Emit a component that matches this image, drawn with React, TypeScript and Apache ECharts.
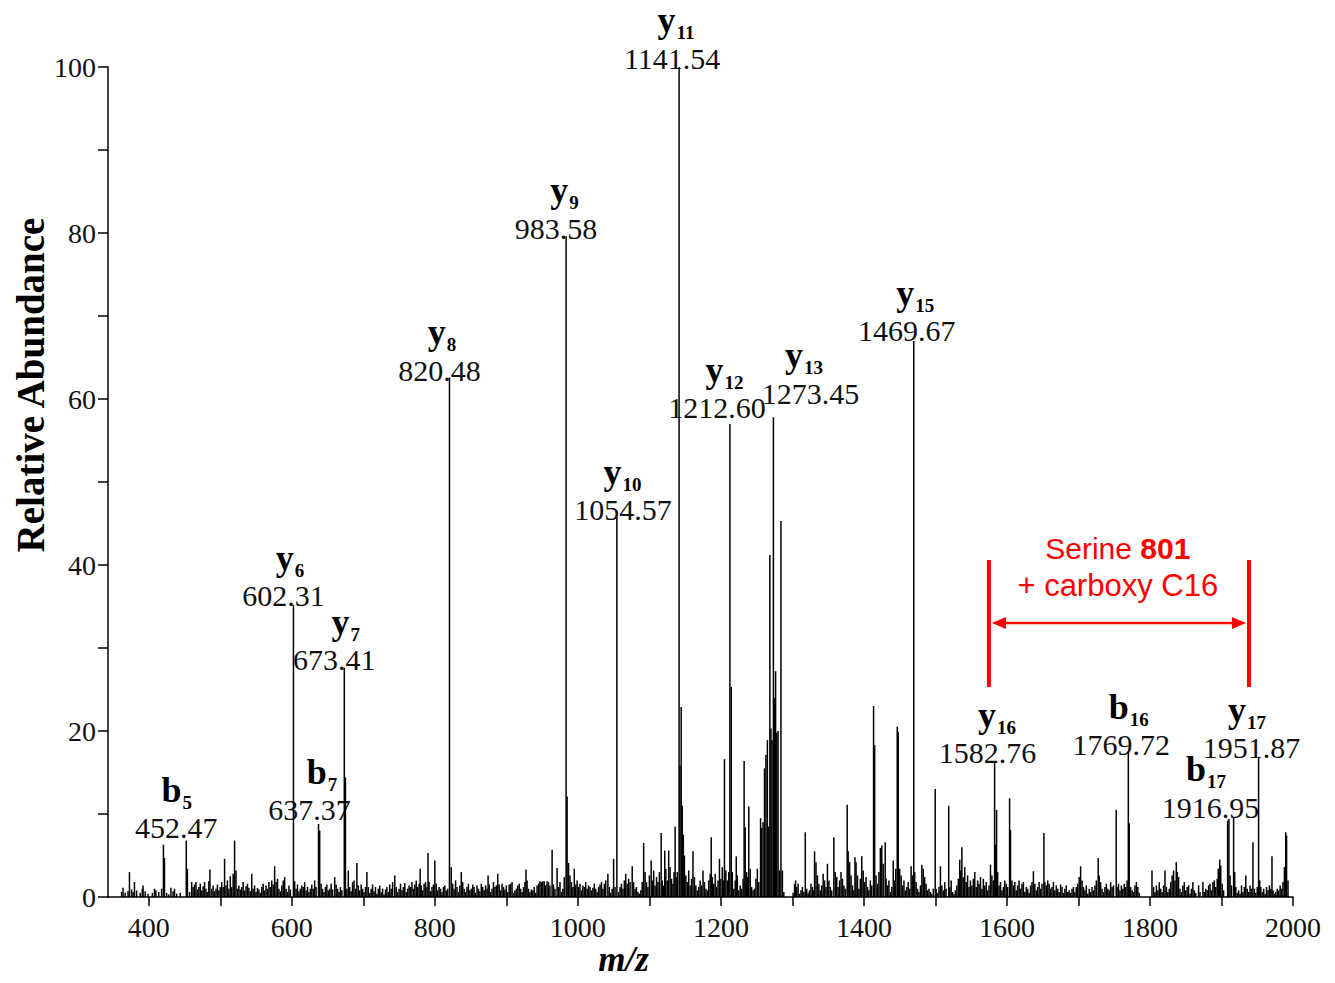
import React, { useEffect, useRef } from "react";
import * as echarts from "echarts";

// ---------- axis ----------
const X_MIN = 343;
const X_MAX = 2000;
const X_TICK_LABELS = [400, 600, 800, 1000, 1200, 1400, 1600, 1800, 2000];
const Y_TICK_LABELS = [0, 20, 40, 60, 80, 100];

// ---------- annotated fragment ions ----------
const ionMz = [452.47, 602.31, 637.37, 673.41, 820.48, 983.58, 1054.57, 1141.54, 1212.6, 1273.45, 1469.67, 1582.76, 1769.72, 1916.95, 1951.87];
const ionIntensity = [6.8, 35.2, 8.8, 27.6, 62.6, 79.6, 45.8, 100, 57.0, 57.8, 67.0, 16.3, 17.5, 9.6, 16.9];
const ionType = ["b", "y", "b", "y", "y", "y", "y", "y", "y", "y", "y", "y", "b", "b", "y"];
const ionIndex = ["5", "6", "7", "7", "8", "9", "10", "11", "12", "13", "15", "16", "16", "17", "17"];

// ---------- other peaks [m/z, relative abundance] ----------
const peaks350to600 = [
  [362, 0.6], [364, 1.1], [367, 0.5], [371, 0.7], [373, 3.0], [376, 0.9], [378, 0.6], [380, 1.8], [383, 0.8], [388, 0.5],
  [391, 1.0], [392, 1.4], [395, 0.7], [399, 0.4], [405, 0.5], [408, 1.0], [410, 0.8], [414, 0.6], [418, 1.0], [420.5, 6.3],
  [422, 4.7], [425, 0.5], [428, 0.3], [431, 1.1], [434, 0.7], [436, 1.0], [439, 0.4], [444, 0.5], [454, 3.4], [457, 0.6],
  [460, 1.8], [462, 1.2], [464, 1.5], [466, 1.8], [468, 0.9], [470, 1.2], [472, 1.6], [474, 0.8], [476, 1.3], [478, 1.8],
  [480, 1.0], [482, 0.6], [484, 1.9], [485.5, 3.3], [488, 1.0], [490, 1.4], [492, 0.7], [494, 1.0], [496, 1.5], [498, 0.8],
  [500, 1.2], [502, 1.8], [504, 1.2], [506, 4.6], [508, 1.4], [510, 2.0], [512, 1.0], [514, 2.5], [516, 1.2], [518, 2.8],
  [520, 6.8], [522, 3.2], [524, 1.0], [526, 1.4], [528, 0.9], [530, 1.2], [532, 1.8], [534, 0.8], [536, 1.3], [538, 1.6],
  [540, 1.1], [542, 0.7], [544, 2.8], [546, 1.0], [548, 1.4], [550, 0.6], [552, 1.1], [554, 0.9], [556, 0.5], [558, 1.2],
  [560, 1.6], [562, 0.8], [564, 1.4], [566, 1.0], [568, 1.8], [570, 1.2], [572, 2.0], [574, 1.5], [576, 3.7], [578, 1.8],
  [580, 2.2], [582, 1.0], [584, 0.7], [586, 1.4], [588, 2.0], [590, 2.4], [592, 1.0], [594, 0.6], [596, 1.4], [598, 0.9],
];
const peaks600to900 = [
  [604, 1.9], [606, 1.0], [608, 1.5], [610, 0.7], [612, 1.0], [614, 1.4], [616, 1.2], [618, 1.8], [620, 0.8], [622, 1.2],
  [624, 0.6], [626, 1.0], [628, 1.5], [630, 1.0], [632, 2.0], [634, 1.2], [639, 8.0], [641, 1.6], [643, 1.0], [645, 0.6],
  [647, 1.2], [649, 1.5], [651, 0.8], [653, 1.0], [655, 1.6], [657, 0.9], [660, 2.4], [662, 1.5], [664, 1.0], [666, 0.6],
  [668, 1.2], [670, 0.8], [675, 14.4], [677, 1.0], [679, 3.2], [681, 1.2], [683, 0.7], [685, 1.8], [687, 2.0], [689, 1.0],
  [691, 4.1], [693, 1.4], [695, 0.8], [697, 1.5], [699, 1.0], [701, 0.6], [703, 1.2], [705, 3.0], [707, 1.2], [709, 0.5],
  [711, 1.0], [713, 1.5], [715, 0.7], [717, 1.2], [719, 0.4], [721, 1.0], [723, 1.4], [725, 0.6], [727, 1.0], [729, 0.3],
  [731, 0.9], [733, 1.2], [735, 0.6], [737, 1.5], [739, 1.0], [741, 1.8], [744, 2.6], [746, 1.2], [748, 0.6], [750, 1.0],
  [752, 1.6], [754, 0.8], [756, 1.2], [758, 1.7], [760, 0.6], [762, 1.0], [764, 1.4], [766, 1.2], [768, 1.8], [770, 1.0],
  [772, 1.5], [774, 2.0], [776, 1.2], [778, 1.6], [779.5, 3.4], [781, 1.4], [783, 0.8], [785, 1.6], [787, 1.8], [789, 1.2],
  [790.5, 5.3], [792, 1.8], [794, 0.7], [796, 1.2], [798, 1.5], [800, 4.4], [802, 1.6], [804, 0.8], [806, 1.2], [808, 1.0],
  [810, 0.6], [812, 1.2], [814, 1.4], [816, 0.8], [818, 1.0], [823, 3.6], [825, 1.6], [827, 1.0], [829, 2.0], [831, 1.2],
  [833, 0.6], [835, 1.4], [837, 3.0], [839, 1.8], [841, 1.0], [843, 0.6], [845, 1.2], [847, 1.6], [849, 0.8], [851, 1.0],
  [853, 1.5], [855, 1.2], [857, 0.5], [859, 1.4], [861, 1.0], [863, 0.7], [865, 1.6], [867, 1.2], [869, 0.8], [871, 1.4],
  [873, 1.0], [874.5, 2.6], [876, 1.5], [878, 0.6], [880, 1.0], [882, 1.8], [884, 1.2], [886, 1.4], [888, 2.8], [890, 1.5],
  [892, 0.8], [894, 1.6], [896, 1.2], [898, 0.9],
];
const peaks900to1200 = [
  [900, 1.4], [902, 0.6], [904, 1.5], [906, 1.6], [908, 1.8], [910, 0.5], [912, 0.8], [914, 1.0], [916, 1.4], [918, 1.6],
  [920, 1.0], [922, 0.6], [924, 1.2], [926, 1.8], [927.5, 3.3], [929, 2.0], [931, 1.0], [933, 0.6], [935, 0.9], [937, 0.8],
  [939, 1.2], [941, 0.5], [943, 1.4], [945, 1.6], [947, 1.9], [949, 1.8], [951, 1.9], [953, 1.9], [955, 1.4], [957, 1.9],
  [959, 1.8], [961, 1.4], [964, 5.7], [966, 1.5], [968, 1.0], [971, 3.5], [973, 1.2], [975, 1.8], [977, 0.6], [979, 1.0],
  [981, 2.4], [985, 12.1], [987, 4.1], [989, 2.6], [991, 1.8], [993, 1.2], [995, 3.4], [997, 1.5], [999, 2.0], [1001, 1.2],
  [1003, 1.6], [1005, 0.8], [1007, 1.4], [1009, 1.2], [1011, 1.8], [1013, 1.0], [1015, 1.4], [1017, 1.2], [1019, 0.8], [1021, 1.1],
  [1023, 1.6], [1025, 1.0], [1027, 0.6], [1029, 1.2], [1031, 1.5], [1033, 1.8], [1035, 1.0], [1037, 1.6], [1039, 2.0], [1042, 2.8],
  [1044, 1.2], [1046, 0.5], [1048, 1.0], [1050, 4.6], [1052, 1.2], [1057, 0.6], [1059, 1.2], [1061, 1.6], [1063, 1.0], [1065, 2.0],
  [1067, 2.8], [1069, 1.6], [1071, 2.2], [1073, 1.8], [1076, 3.7], [1078, 1.8], [1080, 1.0], [1082, 1.2], [1084, 0.6], [1086, 0.4],
  [1088, 0.8], [1090, 1.8], [1092, 6.5], [1094, 3.0], [1096, 1.8], [1098, 1.2], [1100, 2.6], [1102.5, 4.4], [1104, 2.0], [1106, 3.2],
  [1108, 1.4], [1110, 2.4], [1112, 1.8], [1114, 3.0], [1116.5, 7.7], [1118, 2.0], [1120, 1.4], [1121.5, 5.6], [1123, 3.4], [1125, 2.0],
  [1127, 5.6], [1129, 3.6], [1131, 2.2], [1133, 1.6], [1134.5, 3.0], [1136, 8.5], [1138, 2.4], [1139, 3.0], [1142.8, 15.8], [1144.5, 22.9],
  [1146, 11.0], [1147.5, 7.5], [1149, 5.0], [1151, 2.6], [1153, 1.8], [1155, 3.2], [1157, 1.4], [1159, 2.2], [1161, 5.5], [1163, 2.4],
  [1165, 1.4], [1167, 0.8], [1169, 1.2], [1171, 2.0], [1173, 1.4], [1175, 3.2], [1177, 1.8], [1179, 1.0], [1181, 0.8], [1183, 2.0],
  [1185, 2.8], [1186.5, 7.2], [1188, 2.4], [1190, 1.6], [1192, 2.8], [1194, 1.2], [1196, 2.0], [1198, 4.6], [1200, 2.2],
];
const peaks1200to1525 = [
  [1202, 3.6], [1203.5, 2.0], [1205, 16.6], [1207, 3.2], [1209, 2.0], [1211, 3.0], [1214.5, 25.3], [1216, 3.0], [1218, 1.0], [1220, 2.0],
  [1221.5, 4.9], [1223, 2.6], [1225, 0.8], [1227, 1.4], [1229, 1.0], [1231, 2.2], [1232.5, 16.4], [1234, 8.4], [1236, 3.0], [1237.5, 2.4],
  [1239, 10.9], [1241, 3.4], [1243, 1.2], [1245, 0.8], [1247, 1.0], [1249, 2.2], [1251, 3.4], [1253, 1.8], [1255.5, 9.5], [1257, 8.3],
  [1259, 9.0], [1261, 15.5], [1263, 17.1], [1265, 18.9], [1267, 8.5], [1268.5, 41.2], [1270, 20.3], [1271.5, 18.9], [1275, 24.0], [1276.5, 27.2],
  [1278, 19.8], [1280, 20.0], [1282, 3.2], [1284, 45.3], [1286, 3.2], [1288, 0.6], [1301, 0.5], [1303, 1.6], [1304.5, 2.0], [1306, 1.2],
  [1308, 1.6], [1310, 0.4], [1312, 0.8], [1314, 1.2], [1316, 0.6], [1318, 7.8], [1320, 1.0], [1322, 0.5], [1324, 0.8], [1326, 1.6],
  [1328, 1.2], [1330, 0.8], [1331, 5.5], [1333, 4.2], [1335, 2.6], [1337, 1.6], [1339, 0.8], [1341, 1.4], [1343, 2.8], [1345, 2.0],
  [1347, 1.2], [1349, 4.0], [1351, 2.0], [1353, 1.2], [1355, 0.8], [1358, 7.2], [1360, 3.0], [1362, 2.4], [1364, 1.2], [1366, 2.0],
  [1368, 3.0], [1370, 2.2], [1372, 1.4], [1374, 1.0], [1376.6, 11.1], [1378, 5.5], [1380, 4.2], [1382, 2.6], [1384, 1.4], [1386, 0.8],
  [1387.5, 4.8], [1389, 4.2], [1391, 2.6], [1393, 1.0], [1395, 2.2], [1397, 4.9], [1399, 3.2], [1401, 1.8], [1403, 2.4], [1405, 1.2],
  [1407, 0.8], [1409, 2.0], [1411, 1.4], [1413.5, 23.0], [1415, 18.3], [1417, 2.6], [1419, 1.6], [1421, 3.0], [1423, 5.9], [1425, 6.2],
  [1427, 4.0], [1429.8, 6.6], [1431, 2.2], [1433, 1.4], [1435, 2.0], [1437, 0.6], [1439, 1.2], [1441, 4.4], [1443, 2.0], [1444.5, 3.4],
  [1446.6, 20.5], [1448, 19.9], [1450, 3.4], [1452, 2.6], [1454, 1.4], [1456, 2.0], [1458, 0.8], [1460, 1.2], [1462, 1.8], [1464, 1.0],
  [1466, 3.7], [1468, 2.6], [1471, 3.0], [1473, 1.8], [1475, 1.0], [1477, 0.6], [1479, 1.4], [1481, 3.9], [1483, 3.4], [1485, 2.4],
  [1487, 1.6], [1489, 0.8], [1491, 1.0], [1493, 0.6], [1495, 0.4], [1497, 1.0], [1499.7, 13.0], [1501, 1.0], [1503, 0.5], [1505, 1.2],
  [1507, 3.7], [1509, 1.4], [1511, 0.8], [1513, 1.8], [1515, 1.0], [1518.6, 11.0], [1520, 1.2], [1522, 2.0], [1524, 0.6],
];
const peaks1525to2000 = [
  [1526, 0.4], [1528, 0.8], [1530, 1.4], [1532, 2.2], [1534, 4.5], [1535.5, 3.2], [1537, 6.0], [1539, 2.4], [1541, 3.6], [1543, 1.8],
  [1545, 2.6], [1547, 1.2], [1549, 2.0], [1551, 1.4], [1553, 2.2], [1555, 3.0], [1557, 1.2], [1559, 2.0], [1561, 1.6], [1563, 2.4],
  [1565, 1.0], [1567, 2.2], [1569, 1.4], [1571, 1.8], [1573, 0.8], [1575, 1.4], [1577, 3.9], [1579, 2.6], [1581, 2.0], [1584, 6.3],
  [1585.5, 10.5], [1587, 3.0], [1589, 1.4], [1591, 1.8], [1593, 0.8], [1595, 1.2], [1597, 2.0], [1599, 1.6], [1601, 1.2], [1603.7, 11.9],
  [1605, 8.1], [1607, 2.0], [1609, 1.4], [1611, 1.8], [1613, 0.8], [1615, 1.4], [1617, 2.0], [1619, 1.0], [1621, 1.6], [1623, 1.8],
  [1625, 0.6], [1627, 1.2], [1629, 1.0], [1631, 0.5], [1633, 1.4], [1635, 1.8], [1637, 3.1], [1639, 1.6], [1641, 0.8], [1643, 1.2],
  [1645, 1.8], [1647, 1.0], [1649, 1.6], [1651.7, 7.7], [1653, 1.8], [1655, 1.4], [1657, 2.0], [1659, 1.6], [1661, 1.0], [1663, 1.2],
  [1665, 1.8], [1667, 0.8], [1669, 1.4], [1671, 1.0], [1673, 0.6], [1675, 1.5], [1677, 1.2], [1679, 0.5], [1681, 1.0], [1683, 1.4],
  [1685, 0.6], [1687, 0.8], [1689, 0.5], [1691, 1.0], [1693, 1.2], [1695, 0.6], [1697, 1.2], [1699, 1.6], [1701, 2.4], [1703, 3.7],
  [1705, 2.0], [1707, 1.2], [1709, 0.8], [1711, 1.4], [1713, 0.4], [1715, 1.0], [1717, 0.6], [1719, 1.2], [1721, 0.8], [1723, 1.4],
  [1725, 2.0], [1727.6, 4.7], [1729, 2.6], [1731, 1.8], [1733, 1.0], [1735, 0.6], [1737, 1.2], [1739, 1.6], [1741, 1.0], [1743, 0.8],
  [1745, 1.8], [1747, 1.2], [1749, 1.4], [1752.8, 10.5], [1754, 1.2], [1756, 1.6], [1758, 0.8], [1760, 1.4], [1762, 1.0], [1764, 1.6],
  [1766, 1.2], [1768, 2.0], [1771, 8.9], [1773, 1.2], [1775, 0.8], [1777, 0.6], [1779, 1.4], [1781, 1.8], [1783, 1.2], [1785, 0.5],
  [1802.8, 3.2], [1805, 1.2], [1807, 0.6], [1809, 1.4], [1811, 0.8], [1813, 1.8], [1815, 1.0], [1817, 0.6], [1819, 1.4], [1821, 3.2],
  [1823, 1.2], [1825, 0.6], [1827, 1.0], [1829, 1.8], [1831, 2.6], [1833, 3.2], [1835, 2.0], [1836.8, 4.2], [1838, 3.0], [1840, 2.4],
  [1842, 1.0], [1844, 0.6], [1846, 1.4], [1848, 1.8], [1850, 0.8], [1852, 1.2], [1854, 1.4], [1856, 0.4], [1858, 1.0], [1860, 1.8],
  [1862, 0.8], [1864, 0.5], [1868, 1.4], [1870, 0.6], [1874, 1.8], [1876, 0.6], [1878, 1.0], [1880, 0.8], [1882, 1.4], [1884, 1.6],
  [1886, 0.8], [1888, 1.8], [1890, 2.0], [1892, 1.2], [1894, 2.2], [1895.5, 3.4], [1897.5, 4.5], [1899, 3.8], [1901, 1.6], [1903, 0.8],
  [1908.6, 9.2], [1910.4, 9.4], [1912, 2.6], [1914, 1.4], [1918.5, 3.0], [1920, 1.2], [1922, 0.5], [1924, 0.8], [1926, 0.4], [1928, 1.4],
  [1930, 0.6], [1932, 1.2], [1934, 2.6], [1936, 1.0], [1938, 0.6], [1940, 1.4], [1942, 1.0], [1944, 6.6], [1946, 1.0], [1948, 0.5],
  [1950, 1.2], [1953.5, 2.0], [1955, 1.2], [1957, 0.6], [1959, 1.0], [1961, 0.4], [1963, 1.2], [1965, 0.8], [1967, 1.4], [1969, 1.0],
  [1970.6, 4.9], [1972, 0.8], [1974, 0.4], [1976, 0.6], [1978, 1.0], [1980, 0.8], [1982, 1.4], [1984, 1.0], [1986, 1.8], [1988, 3.6],
  [1989.8, 7.8], [1991, 7.4], [1993, 2.0],
];

// ---------- layout (pixel offsets of ion labels, annotation placement in data units) ----------
const LABEL_DX = [-10, -10, -9, -10, -10, -10, 6, -7, -13, 37, -7, -7, -7, -23, -7];
const LABEL_DY = [-1, 3, -2, 4, 5, 4, 5, 3, -4, -12, 2, 3, 5, 2, 3];
const LETTER_DX = [0, 6, 12, 11, 2, 8, -1, 4, 7, -7, 8, 9, 7, -5, -5];
const ANNOT = { left: 1574.8, right: 1938.4, top: 40.6, bottom: 25.3, arrow: 33.0, textX: 1755, text1: 42.0, text2: 37.5 };

const SERIF = "'Liberation Serif', 'Times New Roman', serif";
const SANS = "'Liberation Sans', Arial, sans-serif";

export default function App() {
  const ref = useRef<HTMLDivElement>(null);

  useEffect(() => {
    document.body.style.margin = "0";
    const chart = echarts.init(ref.current!, null, { renderer: "svg" });

    const spectrum = [
      ...peaks350to600,
      ...peaks600to900,
      ...peaks900to1200,
      ...peaks1200to1525,
      ...peaks1525to2000,
      ...ionMz.map((m, i) => [m, ionIntensity[i]]),
    ];

    chart.setOption({
      animation: false,
      grid: { left: 108, right: 42, top: 67, bottom: 86, containLabel: false, outerBoundsMode: "none" },
      xAxis: {
        type: "value",
        min: X_MIN,
        max: X_MAX,
        splitNumber: 16,
        name: "m/z",
        nameLocation: "middle",
        nameGap: 62,
        nameMoveOverlap: false,
        nameTextStyle: {
          fontFamily: SERIF,
          fontWeight: "bold",
          fontStyle: "italic",
          fontSize: 35,
          lineHeight: 30,
          verticalAlign: "middle",
          color: "#000",
          padding: [0, 154, 0, 0],
        },
        axisLine: { show: true, onZero: false, lineStyle: { color: "#000", width: 1.5 } },
        axisTick: { show: true, inside: false, length: 9, lineStyle: { color: "#000", width: 1.5 } },
        axisLabel: {
          show: true,
          margin: 16,
          showMinLabel: false,
          fontFamily: SERIF,
          fontSize: 28,
          color: "#111",
          formatter: (v: number) => (X_TICK_LABELS.includes(v) ? String(v) : ""),
        },
        splitLine: { show: false },
      },
      yAxis: {
        type: "value",
        min: 0,
        max: 100,
        interval: 10,
        name: "Relative Abundance",
        nameLocation: "middle",
        nameGap: 58,
        nameMoveOverlap: false,
        nameRotate: 90,
        nameTextStyle: {
          fontFamily: SERIF,
          fontWeight: "bold",
          fontSize: 39,
          color: "#000",
          padding: [0, 0, 0, 194],
        },
        axisLine: { show: true, lineStyle: { color: "#000", width: 1.5 } },
        axisTick: { show: true, inside: false, length: 10, lineStyle: { color: "#000", width: 1.5 } },
        axisLabel: {
          show: true,
          margin: 12,
          fontFamily: SERIF,
          fontSize: 28,
          color: "#111",
          formatter: (v: number) => (Y_TICK_LABELS.includes(v) ? String(v) : ""),
        },
        splitLine: { show: false },
      },
      series: [
        {
          type: "bar",
          data: spectrum,
          barWidth: 1.5,
          large: false,
          itemStyle: { color: "#000" },
          silent: true,
        },
      ],
    });

    // ---- ion labels & annotation, placed from data coordinates ----
    const toPx = (x: number, y: number) => chart.convertToPixel({ gridIndex: 0 }, [x, y]) as number[];
    const graphics: any[] = [];
    const fsNum = 30;
    const fsLet = 36;
    const fsSub = 19;

    ionMz.forEach((m, i) => {
      const [px, py] = toPx(m, ionIntensity[i]);
      const cx = px + LABEL_DX[i];
      const numBase = py + LABEL_DY[i];
      graphics.push({
        type: "text",
        x: cx,
        y: numBase + 3,
        style: {
          text: m.toFixed(2),
          fontFamily: SERIF,
          fontSize: fsNum,
          fill: "#111",
          align: "center",
          verticalAlign: "bottom",
        },
        silent: true,
      });
      const letterW = fsLet * (ionType[i] === "b" ? 0.556 : 0.5);
      const subW = 0.5 * fsSub * ionIndex[i].length;
      const gx = cx + LETTER_DX[i];
      const lx = gx - (letterW + subW) / 2;
      const letBase = numBase - 38;
      graphics.push({
        type: "text",
        x: lx,
        y: letBase + 6,
        style: {
          text: ionType[i],
          fontFamily: SERIF,
          fontWeight: "bold",
          fontSize: fsLet,
          fill: "#000",
          align: "left",
          verticalAlign: "bottom",
        },
        silent: true,
      });
      graphics.push({
        type: "text",
        x: lx + letterW + 1,
        y: letBase + 10,
        style: {
          text: ionIndex[i],
          fontFamily: SERIF,
          fontWeight: "bold",
          fontSize: fsSub,
          fill: "#000",
          align: "left",
          verticalAlign: "bottom",
        },
        silent: true,
      });
    });

    const [lx, ty] = toPx(ANNOT.left, ANNOT.top);
    const [rx, by] = toPx(ANNOT.right, ANNOT.bottom);
    const [, ay] = toPx(ANNOT.left, ANNOT.arrow);
    const [tx, t1y] = toPx(ANNOT.textX, ANNOT.text1);
    const [, t2y] = toPx(ANNOT.textX, ANNOT.text2);
    const red = "#ff0000";
    graphics.push(
      { type: "rect", shape: { x: lx - 2, y: ty, width: 4, height: by - ty }, style: { fill: red }, silent: true },
      { type: "rect", shape: { x: rx - 2, y: ty, width: 4, height: by - ty }, style: { fill: red }, silent: true },
      { type: "line", shape: { x1: lx + 12, y1: ay, x2: rx - 12, y2: ay }, style: { stroke: red, lineWidth: 2.5 }, silent: true },
      { type: "polygon", shape: { points: [[lx + 3, ay], [lx + 17, ay - 6], [lx + 17, ay + 6]] }, style: { fill: red }, silent: true },
      { type: "polygon", shape: { points: [[rx - 3, ay], [rx - 17, ay - 6], [rx - 17, ay + 6]] }, style: { fill: red }, silent: true },
      {
        type: "text",
        x: tx,
        y: t1y,
        style: {
          text: "{a|Serine }{b|801}",
          align: "center",
          verticalAlign: "middle",
          rich: {
            a: { fontFamily: SANS, fontSize: 30, fill: red },
            b: { fontFamily: SANS, fontSize: 30, fontWeight: "bold", fill: red },
          },
        },
        silent: true,
      },
      {
        type: "text",
        x: tx,
        y: t2y,
        style: { text: "+ carboxy C16", fontFamily: SANS, fontSize: 31, fill: red, align: "center", verticalAlign: "middle" },
        silent: true,
      }
    );

    chart.setOption({ graphic: graphics });

    return () => chart.dispose();
  }, []);

  return <div ref={ref} style={{ position: "fixed", left: 0, top: 0, width: 1335, height: 983, background: "#fff" }} />;
}
